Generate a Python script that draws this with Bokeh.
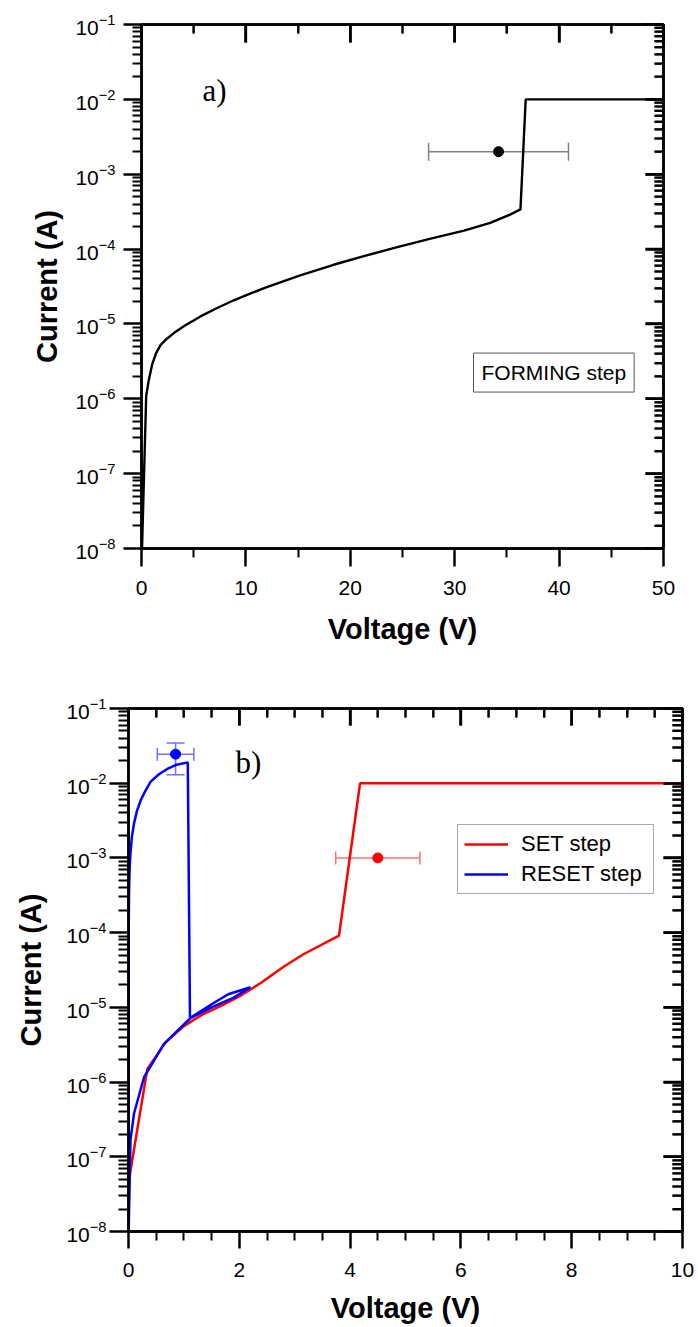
from bokeh.plotting import figure
from bokeh.models import (Range1d, FixedTicker, LinearAxis, LogAxis, Whisker, TeeHead,
                          ColumnDataSource, Legend, LegendItem, Label, CustomJSTickFormatter)
from bokeh.embed import file_html
from bokeh.resources import INLINE

# ---------------- data ----------------
# Panel a : FORMING step
forming_v = [0.05, 0.45, 0.7, 1.02, 1.4, 1.82, 2.4, 3.1, 4.2, 5.65, 7.2, 8.84, 10.4, 12.0,
             15.2, 18.4, 21.3, 24.5, 27.7, 30.9, 33.4, 35.3, 36.3, 36.8, 50.0]
forming_i = [1e-8, 1.1e-6, 1.78e-6, 2.88e-6, 4.07e-6, 5.2e-6, 6.3e-6, 7.55e-6, 9.6e-6,
             1.26e-5, 1.62e-5, 2.07e-5, 2.54e-5, 3.1e-5, 4.45e-5, 6.17e-5, 8.04e-5, 1.06e-4,
             1.38e-4, 1.76e-4, 2.24e-4, 2.88e-4, 3.39e-4, 1e-2, 1e-2]
forming_pt_v = [34.2]
forming_pt_i = [2e-3]
forming_pt_verr = [6.7]

# Panel b : SET / RESET steps
set_v = [0.0, 0.34, 0.67, 1.0, 1.33, 1.67, 2.0, 2.4, 2.8, 3.15, 3.8, 4.18, 10.0]
set_i = [4.5e-8, 1.5e-6, 3.4e-6, 5.6e-6, 8.0e-6, 1.05e-5, 1.4e-5, 2.15e-5, 3.5e-5, 5.1e-5,
         9.1e-5, 1e-2, 1e-2]
reset_v = [0.0, 0.003, 0.01, 0.02, 0.03, 0.06, 0.1, 0.15, 0.22, 0.3, 0.4, 0.55, 0.7, 0.85,
           1.07, 1.11, 1.5, 1.8, 2.2, 1.9, 1.5, 1.12, 0.64, 0.28, 0.1, 0.036, 0.003]
reset_i = [1e-8, 1e-4, 3.5e-4, 7e-4, 1e-3, 1.9e-3, 2.9e-3, 4.2e-3, 5.9e-3, 7.8e-3, 1.05e-2,
           1.32e-2, 1.55e-2, 1.75e-2, 1.9e-2, 7.2e-6, 1.1e-5, 1.5e-5, 1.86e-5, 1.35e-5,
           1.0e-5, 7.2e-6, 3.25e-6, 1.16e-6, 3.8e-7, 1.7e-7, 1e-8]
set_pt_v = [4.5]
set_pt_i = [1e-3]
set_pt_verr = [0.76]
reset_pt_v = [0.85]
reset_pt_i = [2.45e-2]
reset_pt_verr = [0.33]
reset_pt_ilo = [1.3e-2]
reset_pt_ihi = [3.45e-2]

# ticks
y_major = [1e-8, 1e-7, 1e-6, 1e-5, 1e-4, 1e-3, 1e-2, 1e-1]
y_minor = [m * 10.0 ** e for e in range(-8, -1) for m in range(2, 10)]
xa_major = [0, 10, 20, 30, 40, 50]
xa_minor = [5, 15, 25, 35, 45]
xb_major = [0, 2, 4, 6, 8, 10]
xb_minor = [0.5, 1.0, 1.5, 2.5, 3.0, 3.5, 4.5, 5.0, 5.5, 6.5, 7.0, 7.5, 8.5, 9.0, 9.5]

x_label = "Voltage (V)"
y_label = "Current (A)"

FONT = "Liberation Sans"
Y0, Y1 = 1e-8, 1e-1


def style_axis(ax, outward, major_len, minor_len):
    ax.axis_line_width = 2.5
    ax.axis_line_color = "black"
    ax.major_tick_line_width = 2.5
    ax.minor_tick_line_width = 2
    ax.major_tick_line_color = "black"
    ax.minor_tick_line_color = "black"
    if outward:
        ax.major_tick_out = major_len
        ax.major_tick_in = 0
        ax.minor_tick_out = minor_len
        ax.minor_tick_in = 0
    else:
        ax.major_tick_in = major_len
        ax.major_tick_out = 0
        ax.minor_tick_in = minor_len
        ax.minor_tick_out = 0
    ax.major_label_text_font = FONT
    ax.major_label_text_font_size = "21px"
    ax.major_label_text_color = "black"
    ax.axis_label_text_font = FONT
    ax.axis_label_text_font_size = "29px"
    ax.axis_label_text_font_style = "bold"
    ax.axis_label_text_color = "black"


def tick_marks(p, base, lo, hi, dim, width):
    src = ColumnDataSource(dict(b=base, lo=lo, hi=hi))
    p.add_layout(Whisker(source=src, base="b", lower="lo", upper="hi", dimension=dim,
                         line_color="black", line_width=width,
                         lower_head=None, upper_head=None))


def make_fig(width, height, xr, xmaj, xmin, borders, ticklen):
    bl, br, bt, bb = borders
    (xM, xm), (yM, ym) = ticklen
    xt = FixedTicker(ticks=xmaj, minor_ticks=xmin)
    yt = FixedTicker(ticks=y_major, minor_ticks=y_minor)
    p = figure(width=width, height=height, x_range=Range1d(*xr), y_range=Range1d(Y0, Y1),
               x_axis_location=None, y_axis_location=None, y_axis_type="log",
               output_backend="svg", toolbar_location=None,
               min_border_left=bl, min_border_right=br, min_border_top=bt, min_border_bottom=bb)
    p.outline_line_color = "black"
    p.outline_line_width = 2.5
    p.xgrid.visible = False
    p.ygrid.visible = False

    xa = LinearAxis(ticker=xt, axis_label=x_label)
    style_axis(xa, True, xM, xm)
    p.add_layout(xa, "below")
    ya = LogAxis(ticker=yt, axis_label=y_label)
    style_axis(ya, True, yM, ym)
    p.add_layout(ya, "left")

    top = LinearAxis(ticker=xt, formatter=CustomJSTickFormatter(code="return ''"))
    style_axis(top, False, xM, xm)
    top.major_label_text_font_size = "0px"
    top.major_label_standoff = 0
    p.add_layout(top, "above")
    right = LogAxis(ticker=yt, formatter=CustomJSTickFormatter(code="return ''"))
    style_axis(right, False, yM, ym)
    right.major_label_text_font_size = "0px"
    right.major_label_standoff = 0
    p.add_layout(right, "right")

    # tick marks drawn as whiskers too (outward on left/bottom, inward on top/right)
    fw = width - bl - br
    fh = height - bt - bb
    ppx = fw / (xr[1] - xr[0])
    ppd = fh / 7.0
    x0, x1 = xr
    for vals, L, w in ((y_major, yM, 2.5), (y_minor, ym, 2)):
        tick_marks(p, vals, [x0 - L / ppx] * len(vals), [x0] * len(vals), "width", w)
        tick_marks(p, vals, [x1 - L / ppx] * len(vals), [x1] * len(vals), "width", w)
    for vals, L, w in ((xmaj, xM, 2.5), (xmin, xm, 2)):
        tick_marks(p, vals, [Y0 * 10 ** (-L / ppd)] * len(vals), [Y0] * len(vals), "height", w)
        tick_marks(p, vals, [Y1 * 10 ** (-L / ppd)] * len(vals), [Y1] * len(vals), "height", w)
    return p, xa, ya


# ---------------- panel a ----------------
p1, xa1, ya1 = make_fig(698, 668, (0, 50), xa_major, xa_minor, (141, 35, 24, 120),
                        ((18, 9), (18, 9)))
xa1.major_label_standoff = 14
xa1.axis_label_standoff = 15
ya1.major_label_standoff = 8
ya1.axis_label_standoff = 9

p1.line(forming_v, forming_i, line_color="black", line_width=2.4)
src_a = ColumnDataSource(dict(v=forming_pt_v, i=forming_pt_i,
                              lo=[a - b for a, b in zip(forming_pt_v, forming_pt_verr)],
                              hi=[a + b for a, b in zip(forming_pt_v, forming_pt_verr)]))
p1.add_layout(Whisker(source=src_a, base="i", lower="lo", upper="hi", dimension="width",
                      line_color="#808080", line_width=1.5,
                      lower_head=TeeHead(size=18, line_color="#808080", line_width=1.5),
                      upper_head=TeeHead(size=18, line_color="#808080", line_width=1.5)))
p1.scatter("v", "i", source=src_a, size=10, color="black")
p1.add_layout(Label(x=5.84, y=1.31e-2, text="a)", text_font="Liberation Serif",
                    text_font_size="31px", text_color="black", text_baseline="alphabetic"))
p1.add_layout(Label(x=31.8, y=2.24e-6, text="FORMING step", text_font=FONT,
                    text_font_size="21px", text_color="black", text_baseline="middle",
                    border_line_color="#555555", border_line_width=1, padding=8,
                    background_fill_color="white"))

# ---------------- panel b ----------------
p2, xa2, ya2 = make_fig(698, 659, (0, 10), xb_major, xb_minor, (128, 16, 40, 96),
                        ((17, 9), (19, 10)))
xa2.major_label_standoff = 14
xa2.axis_label_standoff = 12
ya2.major_label_standoff = 3
ya2.axis_label_standoff = 16

r_set = p2.line(set_v, set_i, line_color="#FF0000", line_width=2.5)
r_reset = p2.line(reset_v, reset_i, line_color="#0000FF", line_width=2.5)

src_r = ColumnDataSource(dict(v=set_pt_v, i=set_pt_i,
                              lo=[a - b for a, b in zip(set_pt_v, set_pt_verr)],
                              hi=[a + b for a, b in zip(set_pt_v, set_pt_verr)]))
p2.add_layout(Whisker(source=src_r, base="i", lower="lo", upper="hi", dimension="width",
                      line_color="#FF7070", line_width=1.5,
                      lower_head=TeeHead(size=13, line_color="#FF7070", line_width=1.5),
                      upper_head=TeeHead(size=13, line_color="#FF7070", line_width=1.5)))
p2.scatter("v", "i", source=src_r, size=10, color="#FF0000")

src_b = ColumnDataSource(dict(v=reset_pt_v, i=reset_pt_i,
                              lo=[a - b for a, b in zip(reset_pt_v, reset_pt_verr)],
                              hi=[a + b for a, b in zip(reset_pt_v, reset_pt_verr)],
                              ilo=reset_pt_ilo, ihi=reset_pt_ihi))
p2.add_layout(Whisker(source=src_b, base="i", lower="lo", upper="hi", dimension="width",
                      line_color="#7070FF", line_width=1.5,
                      lower_head=TeeHead(size=13, line_color="#7070FF", line_width=1.5),
                      upper_head=TeeHead(size=13, line_color="#7070FF", line_width=1.5)))
p2.add_layout(Whisker(source=src_b, base="v", lower="ilo", upper="ihi", dimension="height",
                      line_color="#7070FF", line_width=1.5,
                      lower_head=TeeHead(size=18, line_color="#7070FF", line_width=1.5),
                      upper_head=TeeHead(size=18, line_color="#7070FF", line_width=1.5)))
p2.scatter("v", "i", source=src_b, size=10, color="#0000FF")

p2.add_layout(Label(x=1.93, y=1.91e-2, text="b)", text_font="Liberation Serif",
                    text_font_size="31px", text_color="black", text_baseline="alphabetic"))

legend = Legend(items=[LegendItem(label="SET step", renderers=[r_set]),
                       LegendItem(label="RESET step", renderers=[r_reset])],
                location=(329, 337), padding=6, spacing=4, margin=0,
                glyph_width=44, glyph_height=20, label_height=20, label_width=126,
                label_standoff=13, label_text_font=FONT, label_text_font_size="22px",
                label_text_color="black", border_line_color="#555555",
                border_line_width=1, background_fill_color="white")
p2.add_layout(legend)

open("out.html", "w").write(file_html([p1, p2], INLINE))
